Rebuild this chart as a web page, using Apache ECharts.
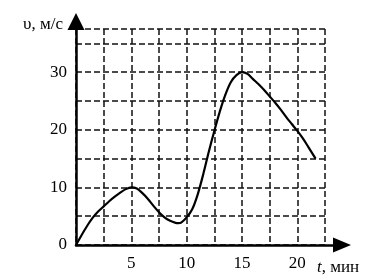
<!DOCTYPE html>
<html>
<head>
<meta charset="utf-8">
<script src="https://cdn.jsdelivr.net/npm/echarts@6/dist/echarts.min.js"></script>
<style>
html,body{margin:0;padding:0;background:#fff;}
#chart{width:387px;height:280px;}
</style>
</head>
<body>
<div id="chart"></div>
<script>
// Data (t in min, v in m/s)
var times  = [0, 0.5, 1, 1.5, 2, 2.5, 3, 3.5, 4, 4.5, 5, 5.5, 6, 6.5, 7, 7.5, 8, 8.5, 9, 9.25, 9.5, 10, 10.5, 11, 11.5, 12, 12.5, 13, 13.5, 14, 14.5, 15, 15.5, 16, 16.5, 17, 17.5, 18, 18.5, 19, 19.5, 20, 20.5, 21, 21.65];
var speeds = [0, 1.7, 3.3, 4.7, 5.8, 6.7, 7.6, 8.4, 9.1, 9.7, 10, 9.8, 9.0, 8.0, 6.8, 5.7, 4.8, 4.2, 3.85, 3.8, 3.9, 4.8, 6.2, 8.8, 12.3, 16.2, 19.8, 23.2, 26.1, 28.3, 29.5, 30, 29.7, 28.8, 27.9, 26.9, 25.8, 24.7, 23.5, 22.2, 21.0, 19.8, 18.5, 17.0, 15];
var xTickLabels = [5, 10, 15, 20];
var yTickLabels = [0, 10, 20, 30];
var xNameVar = 't';
var xNameUnit = ', мин';
var yName = 'υ, м/с';

var serif = 'Liberation Serif';
var data = times.map(function (t, i) { return [t, speeds[i]]; });
var dashed = { show: true, lineStyle: { color: '#111', width: 1.5, type: [6, 3] } };

var chart = echarts.init(document.getElementById('chart'), null, { renderer: 'canvas' });
chart.setOption({
  animation: false,
  backgroundColor: '#fff',
  grid: [
    { left: 76, right: 62, top: 29, bottom: 35 },
    { left: 76, right: 54, top: 30, bottom: 35 }
  ],
  xAxis: [
    {
      gridIndex: 0, type: 'value', min: 0, max: 22.5, interval: 2.5,
      axisLine: { show: false }, axisTick: { show: false },
      splitLine: dashed,
      axisLabel: {
        margin: 10, color: '#000', fontFamily: serif, fontSize: 17,
        formatter: function (v) { return xTickLabels.indexOf(v) >= 0 ? String(v) : ''; }
      }
    },
    {
      gridIndex: 1, type: 'value', min: 0, max: 1,
      axisLine: { show: true, lineStyle: { color: '#000', width: 2.5 },
        symbol: ['none', 'triangle'], symbolSize: [15, 18], symbolOffset: [0, 9] },
      axisTick: { show: false }, axisLabel: { show: false }, splitLine: { show: false },
      name: '{i|' + xNameVar + '}{n|' + xNameUnit + '}', nameLocation: 'end', nameGap: -16,
      nameTextStyle: {
        color: '#000', fontFamily: serif, fontSize: 17, align: 'left', verticalAlign: 'top',
        padding: [14, 0, 0, 0],
        rich: {
          i: { fontFamily: serif, fontSize: 17, fontStyle: 'italic', color: '#000' },
          n: { fontFamily: serif, fontSize: 17, color: '#000' }
        }
      }
    }
  ],
  yAxis: [
    {
      gridIndex: 0, type: 'value', min: 0, max: 37.5, interval: 5,
      axisLine: { show: false }, axisTick: { show: false },
      splitLine: dashed,
      axisLabel: {
        margin: 9, color: '#000', fontFamily: serif, fontSize: 17,
        formatter: function (v) { return yTickLabels.indexOf(v) >= 0 ? String(v) : ''; }
      }
    },
    {
      gridIndex: 1, type: 'value', min: 0, max: 1,
      axisLine: { show: true, lineStyle: { color: '#000', width: 2.5 },
        symbol: ['none', 'triangle'], symbolSize: [17, 17], symbolOffset: [0, 8.5] },
      axisTick: { show: false }, axisLabel: { show: false }, splitLine: { show: false },
      name: yName, nameLocation: 'end', nameGap: 5,
      nameTextStyle: {
        color: '#000', fontFamily: serif, fontSize: 17, align: 'right', verticalAlign: 'middle',
        padding: [0, 13, 0, 0]
      }
    }
  ],
  series: [{
    type: 'line', xAxisIndex: 0, yAxisIndex: 0,
    data: data, smooth: 0.3, showSymbol: false,
    lineStyle: { color: '#000', width: 2.2 }
  }]
});
</script>
</body>
</html>
